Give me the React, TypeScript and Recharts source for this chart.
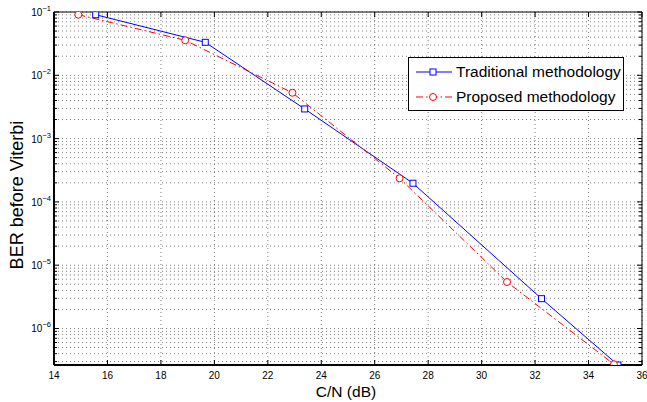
import React from 'react';
import { LineChart, Line, XAxis, YAxis, CartesianGrid, Legend } from 'recharts';

const seriesNames = ['Traditional methodology', 'Proposed methodology'];
const cnTraditional = [15.56, 19.66, 23.38, 27.43, 32.24, 35.1];
const berTraditional = [0.0906, 0.0332, 0.00294, 1.97e-4, 2.96e-6, 2.65e-7];
const cnProposed = [14.91, 18.91, 22.92, 26.93, 30.95, 34.95];
const berProposed = [0.0906, 0.0357, 0.0053, 2.36e-4, 5.43e-6, 2.72e-7];

const xTicks = [14, 16, 18, 20, 22, 24, 26, 28, 30, 32, 34, 36];
const xDomain = [14, 36];
const yDecades = [1e-7, 1e-6, 1e-5, 1e-4, 1e-3, 1e-2, 1e-1];
const yMantissas = [1, 2, 3, 4, 5, 6, 7, 8, 9];
const yDomain = [2.65e-7, 0.1];

const FONT = '"Liberation Sans", Arial, Helvetica, sans-serif';
const BLUE = '#0000ff';
const RED = '#ff0000';

const yAllTicks = yDecades
  .flatMap((d) => yMantissas.map((m) => m * d))
  .filter((v) => v >= yDomain[0] * 0.999 && v <= yDomain[1] * 1.001);

const traditionalData = cnTraditional.map((cn, i) => ({ cn, ber: berTraditional[i] }));
const proposedData = cnProposed.map((cn, i) => ({ cn, ber: berProposed[i] }));

const isMajor = (v: number) => {
  const l = Math.log10(v);
  return Math.abs(l - Math.round(l)) < 1e-6;
};

const LeftTick = (props: any) => {
  const { x, y, payload } = props;
  const v = payload.value as number;
  const major = isMajor(v);
  const ax = x + 4;
  const e = Math.round(Math.log10(v));
  return (
    <g>
      <line x1={ax} x2={ax + (major ? 5 : 3)} y1={y} y2={y} stroke="#000" strokeWidth={1} />
      {major && (
        <text x={ax - 3} y={y + 4} textAnchor="end" fontFamily={FONT} fontSize={10} fill="#000">
          <tspan>10</tspan>
          <tspan dy={-5} fontSize={7.5}>{'\u2212' + String(-e)}</tspan>
        </text>
      )}
    </g>
  );
};

const RightTick = (props: any) => {
  const { x, y, payload } = props;
  const major = isMajor(payload.value);
  return <line x1={x} x2={x - (major ? 5 : 3)} y1={y} y2={y} stroke="#000" strokeWidth={1} />;
};

const BottomTick = (props: any) => {
  const { x, y, payload } = props;
  const ay = y - 7;
  return (
    <g>
      <line x1={x} x2={x} y1={ay} y2={ay - 5} stroke="#000" strokeWidth={1} />
      <text x={x} y={y} dy="0.71em" textAnchor="middle" fontFamily={FONT} fontSize={10} fill="#000">
        {payload.value}
      </text>
    </g>
  );
};

const TopTick = (props: any) => {
  const { x, y } = props;
  return <line x1={x} x2={x} y1={y} y2={y + 5} stroke="#000" strokeWidth={1} />;
};

const SquareDot = (props: any) => {
  const { cx, cy } = props;
  if (cx == null || cy == null) return null;
  return <rect x={cx - 3} y={cy - 3} width={6} height={6} fill="#fff" stroke={BLUE} strokeWidth={1} />;
};

const CircleDot = (props: any) => {
  const { cx, cy } = props;
  if (cx == null || cy == null) return null;
  return <circle cx={cx} cy={cy} r={3.5} fill="#fff" stroke={RED} strokeWidth={1} />;
};

const LegendBox = () => (
  <div
    style={{
      width: 214,
      height: 52,
      border: '1px solid #000',
      background: '#fff',
      fontFamily: FONT,
      fontSize: 15.5,
      color: '#000',
      position: 'relative',
      whiteSpace: 'nowrap',
    }}
  >
    {seriesNames.map((name, i) => (
      <div
        key={name}
        style={{ position: 'absolute', left: 7, top: 3 + i * 25, height: 22, display: 'flex', alignItems: 'center' }}
      >
        <svg width={36} height={12} style={{ display: 'block' }}>
          {i === 0 ? (
            <>
              <line x1={0} x2={36} y1={6} y2={6} stroke={BLUE} strokeWidth={1} />
              <rect x={14} y={3} width={6} height={6} fill="#fff" stroke={BLUE} />
            </>
          ) : (
            <>
              <line x1={0} x2={36} y1={6} y2={6} stroke={RED} strokeWidth={1} strokeDasharray="7 3 1.5 3" />
              <circle cx={17} cy={6} r={3.5} fill="#fff" stroke={RED} />
            </>
          )}
        </svg>
        <span style={{ marginLeft: 4, lineHeight: '22px' }}>{name}</span>
      </div>
    ))}
  </div>
);

export default function App() {
  return (
    <div style={{ position: 'absolute', left: 0, top: 0, width: 647, height: 402, background: '#fff' }}>
      <LineChart width={647} height={402} margin={{ top: 0, right: 0, bottom: 0, left: 0 }}>
        <CartesianGrid
          horizontalValues={yAllTicks}
          verticalValues={xTicks}
          stroke="#000"
          strokeOpacity={0.5}
          strokeDasharray="1 3"
          fill="none"
        />
        <XAxis
          dataKey="cn"
          type="number"
          domain={xDomain}
          ticks={xTicks}
          interval={0}
          allowDataOverflow
          height={37}
          tickSize={0}
          tickMargin={7}
          tickLine={false}
          tick={<BottomTick />}
          axisLine={{ stroke: '#000', strokeWidth: 2 }}
        />
        <XAxis
          xAxisId="top"
          orientation="top"
          dataKey="cn"
          type="number"
          domain={xDomain}
          ticks={xTicks}
          interval={0}
          allowDataOverflow
          height={12}
          tickSize={0}
          tickMargin={0}
          tickLine={false}
          tick={<TopTick />}
          axisLine={{ stroke: '#000', strokeWidth: 1 }}
        />
        <YAxis
          type="number"
          scale="log"
          domain={yDomain}
          ticks={yAllTicks}
          interval={0}
          allowDataOverflow
          width={54}
          tickSize={0}
          tickMargin={4}
          tickLine={false}
          tick={<LeftTick />}
          axisLine={{ stroke: '#000', strokeWidth: 2 }}
        />
        <YAxis
          yAxisId="right"
          orientation="right"
          type="number"
          scale="log"
          domain={yDomain}
          ticks={yAllTicks}
          interval={0}
          allowDataOverflow
          width={5}
          tickSize={0}
          tickMargin={0}
          tickLine={false}
          tick={<RightTick />}
          axisLine={{ stroke: '#000', strokeWidth: 1 }}
        />
        <Line
          data={traditionalData}
          dataKey="ber"
          name={seriesNames[0]}
          stroke={BLUE}
          strokeWidth={1}
          dot={<SquareDot />}
          activeDot={false}
          isAnimationActive={false}
          type="linear"
        />
        <Line
          data={proposedData}
          dataKey="ber"
          name={seriesNames[1]}
          stroke={RED}
          strokeWidth={1}
          strokeDasharray="7 3 1.5 3"
          dot={<CircleDot />}
          activeDot={false}
          isAnimationActive={false}
          type="linear"
        />
        <Legend
          layout="horizontal"
          verticalAlign="middle"
          align="center"
          content={<LegendBox />}
          wrapperStyle={{ left: 408, top: 57, width: 216, height: 54 }}
        />
        <text x={346} y={397} textAnchor="middle" fontFamily={FONT} fontSize={15.5} fill="#000">
          C/N (dB)
        </text>
        <text
          x={23}
          y={195}
          textAnchor="middle"
          fontFamily={FONT}
          fontSize={18}
          fill="#000"
          transform="rotate(-90 23 195)"
        >
          BER before Viterbi
        </text>
      </LineChart>
    </div>
  );
}
